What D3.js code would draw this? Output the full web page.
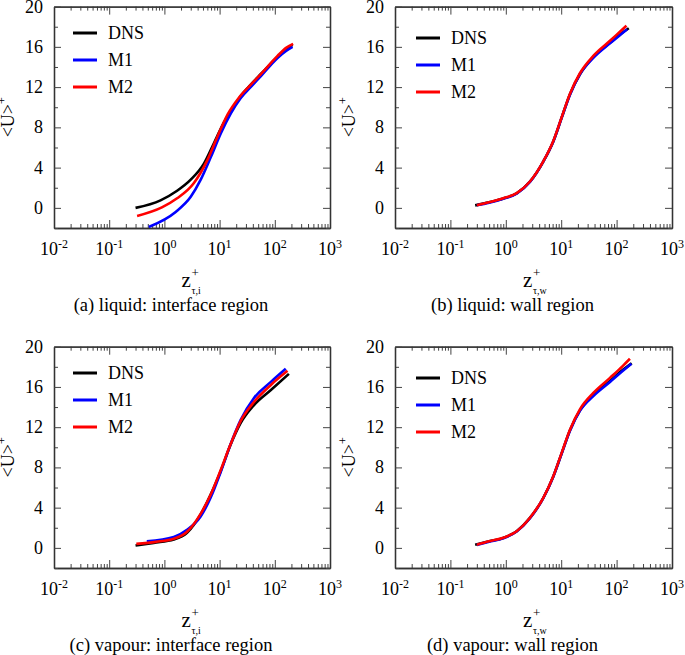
<!DOCTYPE html>
<html><head><meta charset="utf-8">
<script src="https://cdn.jsdelivr.net/npm/d3@7"></script>
<style>
body{margin:0;background:#fff}
</style></head>
<body><svg id="c" width="685" height="655" font-family="'Liberation Serif', 'DejaVu Serif', serif"></svg>
<script>
// ---- data: [z+, <U>+] pairs ----
const seriesNames = ["DNS","M1","M2"];
const seriesColors = ["#000000","#0000ff","#ff0000"];
const xTickExponents = [-2,-1,0,1,2,3];
const yTickValues = [0,4,8,12,16,20];
const captions = ["(a) liquid: interface region","(b) liquid: wall region","(c) vapour: interface region","(d) vapour: wall region"];
const subscripts = ["τ,i","τ,w","τ,i","τ,w"];

const liqIntDNS = [[0.3,0],[0.85,0.75],[1.7,1.7],[3,2.8],[5.2,4.4],[8,6.5],[12,8.5],[16,9.6],[24,11.1],[36,12.2],[56,13.3],[112,15.0],[160,15.8],[210,16.2]];
const liqIntM1  = [[0.52,-1.9],[1.6,-0.4],[3,1.1],[4.5,2.75],[7,5.1],[10.5,7.4],[16,9.4],[24,10.9],[38,12.1],[56,13.1],[112,14.9],[160,15.6],[210,16.0]];
const liqIntM2  = [[0.32,-0.8],[0.9,0.05],[1.7,0.95],[3.4,2.45],[6,4.75],[9,7],[14,9.3],[22,10.9],[36,12.2],[56,13.3],[112,15.1],[160,15.9],[215,16.3]];

const liqWallDNS = [[0.28,0.25],[0.5,0.55],[0.9,0.94],[1.57,1.45],[2.73,2.6],[4.75,4.6],[7.2,6.6],[10.2,8.97],[14.4,11.3],[21.9,13.3],[38,15.0],[76,16.4],[120,17.3],[166,17.85]];
const liqWallM1  = [[0.3,0.25],[0.5,0.5],[0.9,0.9],[1.57,1.42],[2.73,2.58],[4.75,4.6],[7.2,6.6],[10.2,8.95],[14.4,11.25],[21.9,13.3],[38,14.9],[76,16.35],[120,17.25],[155,17.75]];
const liqWallM2  = [[0.3,0.27],[0.5,0.56],[0.9,0.95],[1.57,1.47],[2.73,2.62],[4.75,4.62],[7.2,6.65],[10.2,9.0],[14.4,11.35],[21.9,13.4],[38,15.1],[76,16.6],[120,17.6],[151,18.1]];

const vapIntDNS = [[0.3,0.23],[0.64,0.5],[1.48,0.82],[2.57,1.49],[4.5,3.3],[6.9,5.3],[10.4,7.6],[15.8,10.25],[24,12.4],[42,14.2],[85,15.7],[180,17.3]];
const vapIntM1  = [[0.48,0.65],[1.48,1.09],[2.57,1.8],[4.5,3.1],[6.9,5.0],[10.4,7.5],[15.8,10.3],[24,12.7],[42,14.9],[85,16.5],[158,17.8]];
const vapIntM2  = [[0.31,0.4],[0.7,0.6],[1.48,0.9],[2.57,1.6],[4.5,3.35],[6.9,5.3],[10.4,7.7],[15.8,10.3],[24,12.6],[42,14.5],[85,16.2],[170,17.6]];

const vapWallDNS = [[0.28,0.3],[0.5,0.65],[0.9,0.99],[1.57,1.65],[2.73,2.98],[4.75,4.96],[7.2,7.1],[10.2,9.4],[14.4,11.7],[21.9,13.7],[38,15.2],[76,16.6],[130,17.7],[187,18.35]];
const vapWallM1  = [[0.3,0.3],[0.5,0.6],[0.9,0.95],[1.57,1.62],[2.73,2.95],[4.75,4.94],[7.2,7.08],[10.2,9.38],[14.4,11.65],[21.9,13.65],[38,15.1],[76,16.5],[130,17.6],[185,18.3]];
const vapWallM2  = [[0.3,0.32],[0.5,0.66],[0.9,1.0],[1.57,1.66],[2.73,3.0],[4.75,4.98],[7.2,7.12],[10.2,9.45],[14.4,11.75],[21.9,13.8],[38,15.4],[76,16.9],[130,18.1],[174,18.8]];

const panelData = [
  [liqIntDNS, liqIntM1, liqIntM2],
  [liqWallDNS, liqWallM1, liqWallM2],
  [vapIntDNS, vapIntM1, vapIntM2],
  [vapWallDNS, vapWallM1, vapWallM2]
];

// ---- layout ----
const boxes = [
  {x0:54, x1:330, y0:6.6, y1:228, legY:33, legX:73},
  {x0:395,x1:672, y0:6.6, y1:228, legY:38, legX:416},
  {x0:54, x1:330, y0:346.7,y1:568, legY:373, legX:73},
  {x0:395,x1:672, y0:346.7,y1:568, legY:378, legX:416}
];

const svg = d3.select("#c");
const majors = xTickExponents.map(e => Math.pow(10,e));
const minors = [];
for (let e=-2;e<3;e++) for (let m=2;m<10;m++) minors.push(m*Math.pow(10,e));
const yMinors = d3.range(-2,21,2).filter(v => !yTickValues.includes(v));

boxes.forEach((b,i) => {
  const x = d3.scaleLog().domain([1e-2,1e3]).range([b.x0,b.x1]);
  const y = d3.scaleLinear().domain([-2,20]).range([b.y1,b.y0]);
  const g = svg.append("g");
  const clipId = "clip"+i;
  g.append("clipPath").attr("id",clipId).append("rect")
    .attr("x",b.x0).attr("y",b.y0).attr("width",b.x1-b.x0).attr("height",b.y1-b.y0);

  const axStyle = sel => { sel.attr("font-family",null); sel.selectAll("line").attr("stroke","#444").attr("stroke-width",1); sel.select(".domain").attr("stroke","#333").attr("stroke-width",1.3); };
  g.append("g").attr("transform",`translate(0,${b.y1})`).call(d3.axisBottom(x).tickValues(minors).tickSize(-4).tickSizeOuter(0).tickFormat("")).call(axStyle);
  g.append("g").attr("transform",`translate(0,${b.y1})`).call(d3.axisBottom(x).tickValues(majors).tickSize(-8).tickSizeOuter(0).tickFormat("")).call(axStyle);
  g.append("g").attr("transform",`translate(0,${b.y0})`).call(d3.axisTop(x).tickValues(minors).tickSize(-4).tickSizeOuter(0).tickFormat("")).call(axStyle);
  g.append("g").attr("transform",`translate(0,${b.y0})`).call(d3.axisTop(x).tickValues(majors).tickSize(-8).tickSizeOuter(0).tickFormat("")).call(axStyle);
  g.append("g").attr("transform",`translate(${b.x0},0)`).call(d3.axisLeft(y).tickValues(yMinors).tickSize(-4).tickSizeOuter(0).tickFormat("")).call(axStyle);
  g.append("g").attr("transform",`translate(${b.x0},0)`).call(d3.axisLeft(y).tickValues(yTickValues).tickSize(-7).tickSizeOuter(0).tickFormat("")).call(axStyle);
  g.append("g").attr("transform",`translate(${b.x1},0)`).call(d3.axisRight(y).tickValues(yMinors).tickSize(-4).tickSizeOuter(0).tickFormat("")).call(axStyle);
  g.append("g").attr("transform",`translate(${b.x1},0)`).call(d3.axisRight(y).tickValues(yTickValues).tickSize(-7).tickSizeOuter(0).tickFormat("")).call(axStyle);
  g.selectAll(".tick text").remove();

  xTickExponents.forEach(e => {
    const t = g.append("text").attr("x",x(Math.pow(10,e))).attr("y",b.y1+27)
      .attr("text-anchor","middle").style("font-size","18px").text("10");
    t.append("tspan").attr("dy",-7).style("font-size","12px").text(String(e));
  });
  yTickValues.forEach(v => {
    g.append("text").attr("x",b.x0-11).attr("y",y(v)+6).attr("text-anchor","end")
      .style("font-size","18px").text(v);
  });

  const cy = (b.y0+b.y1)/2;
  const yl = g.append("text").attr("transform",`translate(${b.x0-40},${cy}) rotate(-90)`)
    .attr("text-anchor","middle").style("font-size","18px").text("<U>");
  yl.append("tspan").attr("dy",-8).style("font-size","12px").text("+");

  const cx = (b.x0+b.x1)/2;
  g.append("text").attr("x",cx-10.5).attr("y",b.y1+59).style("font-size","21px").text("z");
  g.append("text").attr("x",cx-0.5).attr("y",b.y1+49).style("font-size","13px").text("+");
  g.append("text").attr("x",cx-0.5).attr("y",b.y1+66).style("font-size","10px").text(subscripts[i]);

  g.append("text").attr("x",cx-21).attr("y",b.y1+83).attr("text-anchor","middle")
    .style("font-size","18.5px").text(captions[i]);

  const line = d3.line().x(d => x(d[0])).y(d => y(d[1])).curve(d3.curveMonotoneX);
  const cg = g.append("g").attr("clip-path",`url(#${clipId})`);
  panelData[i].forEach((s,k) => {
    cg.append("path").datum(s).attr("d",line).attr("fill","none")
      .attr("stroke",seriesColors[k]).attr("stroke-width",2.6).attr("stroke-linejoin","round");
  });

  seriesNames.forEach((n,k) => {
    const ly = b.legY + k*27;
    g.append("line").attr("x1",b.legX).attr("x2",b.legX+24).attr("y1",ly).attr("y2",ly)
      .attr("stroke",seriesColors[k]).attr("stroke-width",3);
    g.append("text").attr("x",b.legX+35).attr("y",ly+6).style("font-size","18px").text(n);
  });
});
</script></body></html>
